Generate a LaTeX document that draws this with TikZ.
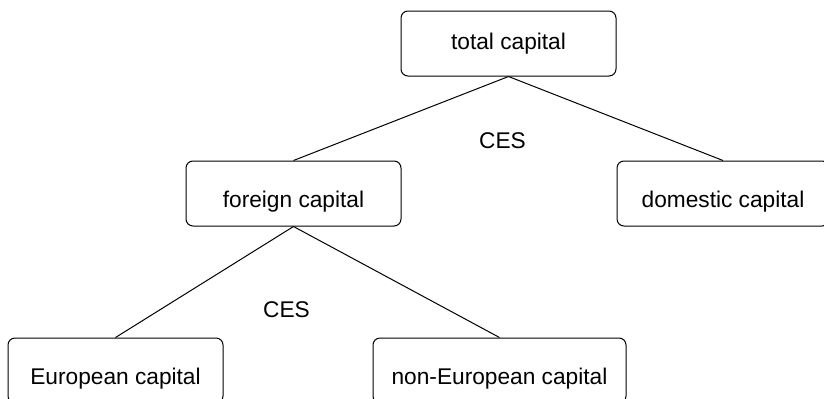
\documentclass[tikz,border=0pt]{standalone}
\usepackage{fontspec}
\setmainfont{Liberation Sans}
\usetikzlibrary{calc}

\begin{document}
\begin{tikzpicture}[x=0.5pt, y=0.5pt]
    \def\levelgap{150}
    \def\bottomgap{177}
    \tikzstyle{box}=[rectangle, draw, rounded corners=3.5pt, line width=0.5pt, minimum width=107.5pt, minimum height=32.5pt, inner sep=0pt, font=\fontsize{11.35}{13.6}\selectfont]
    \tikzstyle{lower}=[text height=16pt, text depth=2.5pt]
    \tikzstyle{link}=[line width=0.5pt]
    \tikzstyle{caption}=[font=\fontsize{11.35}{13.6}\selectfont]

    \useasboundingbox (0,0) rectangle (824,398);
    \clip (0,0) rectangle (824,398);

    % nodes
    \node (total) [box] at (508.5,354.5) {total capital};
    \path (total.center)+(-215,-\levelgap) node (foreign) [box, lower] {foreign capital};
    \path (total.center)+(214.5,-\levelgap) node (domestic) [box, lower, minimum width=106pt] {domestic capital};
    \path (foreign.center)+(-178,-\bottomgap) node (european) [box, lower] {European capital};
    \path (foreign.center)+(206,-\bottomgap) node (noneuropean) [box, lower, minimum width=126.5pt] {non-European capital};

    % connectors
    \draw[link] (total.south) -- (foreign.north);
    \draw[link] (total.south) -- (domestic.north);
    \draw[link] (foreign.south) -- (european.north);
    \draw[link] (foreign.south) -- (noneuropean.north);

    % captions
    \path (total.south)+(-6,-64) node (ces1) [caption] {CES};
    \path (foreign.south)+(-7,-83) node (ces2) [caption] {CES};
\end{tikzpicture}
\end{document}
